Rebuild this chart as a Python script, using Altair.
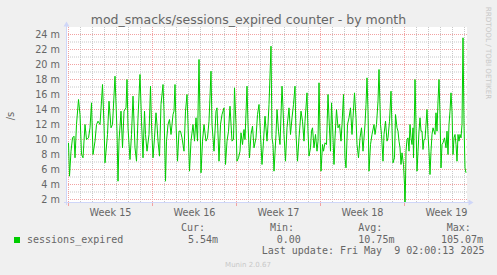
import altair as alt
import pandas as pd

# ---------------- data ----------------
TITLE = "mod_smacks/sessions_expired counter - by month"
Y_UNIT = "/s"
SERIES = "sessions_expired"
WEEKS = ["Week 15", "Week 16", "Week 17", "Week 18", "Week 19"]
WEEK_MID_HOURS = [84, 252, 420, 588, 756]
WEEK_START_HOURS = [0, 168, 336, 504, 672]
DAY_HOURS = [24 * d for d in range(34)]
Y_MAJOR = [2, 4, 6, 8, 10, 12, 14, 16, 18, 20, 22, 24]
Y_MINOR = [3, 5, 7, 9, 11, 13, 15, 17, 19, 21, 23]
STAT_HEADS = ["Cur:", "Min:", "Avg:", "Max:"]
STAT_VALUES = ["5.54m", "0.00", "10.75m", "105.07m"]
LAST_UPDATE = "Last update: Fri May\u00a0 9 02:00:13 2025"
FOOTER = "Munin 2.0.67"
WATERMARK = "RRDTOOL / TOBI OETIKER"

# hours since Monday of week 15, and sessions expired per second (milli)
hours = [
    0, 2, 5, 8, 11, 13, 16, 20, 23, 26, 29, 33, 36, 40, 43, 46, 49, 53, 56, 59,
    63, 66, 68, 71, 73, 78, 81, 85, 88, 93, 97, 99, 101, 105, 108, 111, 115, 117, 119, 123,
    126, 129, 133, 136, 139, 143, 146, 149, 152,
    154, 157, 161, 164, 166, 169, 172, 175, 177, 179, 182, 185, 189, 191, 194, 196, 199, 202, 205, 209,
    211, 213, 215, 218, 221, 224, 227, 231, 234, 237, 239, 242, 245, 249, 252, 255, 258, 261, 263, 265,
    268, 271, 275, 278, 281, 285, 287, 291, 295, 297, 301, 304, 307, 311, 314, 317,
    320, 323, 327, 330, 332, 335, 337, 340, 343, 345, 348, 351, 353, 357, 359, 362, 365, 368, 371, 375,
    378, 381, 384, 387, 390, 393, 397, 399, 401, 405, 407, 409, 411, 415, 417, 420, 423, 427, 429, 431,
    434, 437, 441, 444, 447, 450, 453, 455, 458, 461, 465, 468, 471, 473, 477, 479, 481, 484,
    486, 488, 491, 494, 497, 499, 501, 503, 505, 508, 510, 513, 516, 519, 521, 524, 526, 528, 531, 533,
    536, 539, 542, 545, 547, 550, 553, 555, 558, 561, 564, 567, 569, 572, 575, 577, 580, 583, 586, 589,
    593, 595, 597, 599, 601, 604, 607, 611, 613, 616, 619, 621, 624, 626, 629, 631, 634, 637, 639, 642,
    645, 647, 649,
    652, 654, 657, 659, 661, 663, 665, 667, 670, 672, 673, 675, 677, 679, 681, 683, 685, 687, 689, 690,
    692, 693, 695, 697, 699, 701, 703, 705, 707, 709, 711, 713, 715, 717, 719, 721, 723, 725, 727, 729,
    731, 733, 735, 737, 739, 741, 743, 745, 747, 749, 752, 755, 757, 759, 761, 763, 765, 767, 769, 771,
    773, 775, 777, 779, 781, 783, 785, 787, 789, 791, 793, 795,
]
rate_m = [
    9.56, 5.11, 8.44, 10.22, 10.44, 7.56, 12.0, 15.33, 13.33, 8.0, 7.56, 12.0, 10.0, 10.22, 11.56, 14.89, 8.0, 9.78, 12.0, 12.44,
    12.0, 15.11, 17.33, 12.0, 6.89, 10.67, 15.11, 11.56, 12.0, 18.44, 11.11, 4.44, 9.78, 13.78, 8.89, 13.78, 14.22, 18.0, 11.56, 7.33,
    10.67, 15.78, 8.89, 7.11, 12.89, 18.67, 12.44, 7.56, 13.78,
    10.67, 8.44, 10.67, 17.11, 12.0, 7.56, 10.22, 13.56, 12.0, 9.78, 7.78, 14.67, 17.33, 13.78, 4.44, 9.78, 12.0, 12.67, 10.67, 13.33,
    13.78, 17.33, 12.0, 7.11, 11.11, 11.11, 10.22, 8.44, 13.78, 16.0, 12.0, 5.78, 9.78, 12.0, 9.78, 12.89, 9.78, 20.67, 12.89, 5.56,
    9.78, 12.0, 9.78, 10.22, 12.44, 19.11, 12.0, 8.44, 13.78, 14.22, 7.11, 12.0, 13.33, 14.22, 6.67, 9.78,
    11.11, 14.44, 9.78, 10.0, 16.89, 12.0, 7.11, 7.56, 8.44, 10.89, 9.33, 11.33, 10.0, 17.11, 12.0, 7.56, 10.67, 11.78, 8.89, 10.22,
    13.33, 14.67, 10.67, 6.67, 9.78, 13.11, 9.78, 12.0, 14.67, 22.44, 10.22, 9.33, 5.78, 10.67, 14.0, 11.11, 9.33, 17.11, 14.22, 10.67,
    7.11, 11.56, 14.22, 10.67, 12.89, 14.67, 17.11, 10.67, 7.11, 10.22, 13.78, 12.44, 9.78, 12.44, 16.22, 11.11, 7.78, 8.89,
    11.11, 11.56, 8.89, 10.67, 8.44, 9.78, 17.56, 11.11, 5.78, 9.33, 8.44, 9.56, 9.33, 16.0, 12.89, 8.44, 14.89, 12.0, 6.67, 10.22,
    14.0, 11.56, 12.0, 9.78, 12.0, 16.0, 7.56, 6.22, 12.0, 12.89, 14.22, 10.67, 12.89, 16.22, 12.89, 9.33, 7.56, 10.22, 11.56, 8.44,
    12.0, 14.67, 18.22, 13.78, 5.78, 9.33, 10.67, 12.0, 10.67, 12.0, 15.11, 19.33, 12.0, 10.67, 7.11, 10.67, 12.44, 9.78, 10.22, 12.44,
    16.44, 11.56, 6.89,
    7.56, 13.33, 11.56, 11.11, 9.78, 8.89, 6.67, 8.22, 6.67, 4.0, 0.0, 8.44, 10.0, 10.22, 8.44, 12.0, 10.22, 9.33, 11.56, 7.56,
    13.78, 18.0, 12.0, 5.78, 8.44, 11.11, 12.89, 11.11, 11.11, 8.67, 10.0, 10.0, 12.0, 14.0, 10.67, 8.44, 5.33, 8.44, 10.67, 11.56,
    11.11, 10.67, 13.56, 11.11, 15.11, 18.0, 13.33, 6.22, 9.33, 9.56, 10.22, 8.89, 11.11, 8.0, 12.0, 13.78, 16.22, 13.78, 8.0, 10.22,
    10.67, 9.33, 7.11, 10.67, 9.78, 10.67, 10.22, 12.0, 23.56, 12.0, 6.22, 5.56,
]

# ---------------- styling ----------------
FONT = "DejaVu Sans"
MONO = "DejaVu Sans Mono"
TXT = "#666666"
FAINT = "#c8c8c8"
GRID = "#c8c8c8"
MGRID = "#f2a2a2"
AXIS = "#CFD6F8"
GREEN = "#00cc00"

# domains chosen so grid lines fall on pixel centres (2 h per px, 7.5 px per m)
xscale = alt.Scale(domain=[-3, 797], nice=False, zero=False)
yscale = alt.Scale(domain=[1.6667, 25.0], nice=False, zero=False)

df = pd.DataFrame({"h": hours, "v": rate_m})


def X(field="h"):
    return alt.X(f"{field}:Q", scale=xscale, axis=None)


def Y(field="v"):
    return alt.Y(f"{field}:Q", scale=yscale, axis=None)


def one(text):
    return pd.DataFrame({"t": [text]})


def label(text, x, y, size, color=TXT, font=FONT, align="left", baseline="alphabetic", angle=0):
    return alt.Chart(one(text)).mark_text(
        font=font, fontSize=size, color=color, align=align, baseline=baseline, angle=angle
    ).encode(text="t:N", x=alt.value(x), y=alt.value(y))


layers = []

# grids
layers.append(alt.Chart(pd.DataFrame({"v": Y_MINOR})).mark_rule(color=GRID, strokeDash=[1, 1], strokeWidth=1).encode(y=Y()))
layers.append(alt.Chart(pd.DataFrame({"h": DAY_HOURS})).mark_rule(color=GRID, strokeDash=[1, 1], strokeWidth=1).encode(x=X()))
layers.append(alt.Chart(pd.DataFrame({"v": Y_MAJOR})).mark_rule(color=MGRID, strokeDash=[1, 1], strokeWidth=1).encode(y=Y()))
layers.append(alt.Chart(pd.DataFrame({"h": WEEK_START_HOURS})).mark_rule(color=MGRID, strokeDash=[1, 1], strokeWidth=1).encode(x=X()))
# week ticks below the axis
layers.append(alt.Chart(pd.DataFrame({"h": WEEK_START_HOURS})).mark_rule(color=MGRID, strokeWidth=1).encode(
    x=X(), y=alt.value(175), y2=alt.value(179)))

# data line
layers.append(alt.Chart(df).mark_line(color=GREEN, strokeWidth=1, clip=True, interpolate="linear").encode(x=X(), y=Y()))

# axis lines and arrows
layers.append(alt.Chart(one("a")).mark_rule(color=AXIS, strokeWidth=1).encode(
    x=alt.value(-0.5), y=alt.value(-3), y2=alt.value(178)))
layers.append(alt.Chart(one("a")).mark_rule(color=AXIS, strokeWidth=1).encode(
    y=alt.value(175.5), x=alt.value(-3), x2=alt.value(403)))
layers.append(alt.Chart(one("a")).mark_point(shape="triangle-up", filled=True, size=34, color=AXIS, opacity=1).encode(
    x=alt.value(-0.5), y=alt.value(-3)))
layers.append(alt.Chart(one("a")).mark_point(shape="triangle-right", filled=True, size=34, color=AXIS, opacity=1).encode(
    x=alt.value(404), y=alt.value(175.5)))

# tick labels
layers.append(alt.Chart(pd.DataFrame({"v": Y_MAJOR, "t": [f"{v} m" for v in Y_MAJOR]})).mark_text(
    font=FONT, fontSize=9.7, color=TXT, align="right", baseline="middle").encode(
    y=Y(), x=alt.value(-7), text="t:N"))
layers.append(alt.Chart(pd.DataFrame({"h": WEEK_MID_HOURS, "t": WEEKS})).mark_text(
    font=FONT, fontSize=9.7, color=TXT, align="center", baseline="alphabetic").encode(
    x=X(), y=alt.value(189), text="t:N"))

# titles and texts
layers.append(label(TITLE, 181.5, -3, 12.5, align="center"))
layers.append(label(Y_UNIT, -56, 89, 10, align="center", baseline="middle", angle=270))
layers.append(label(WATERMARK, 421, 26, 7.2, color=FAINT, align="center", baseline="middle", angle=90))
layers.append(label(FOOTER, 181, 240, 7, color=FAINT, align="center"))

# legend
layers.append(alt.Chart(one("a")).mark_square(size=36, color=GREEN, opacity=1).encode(
    x=alt.value(-50), y=alt.value(213)))
layers.append(label(SERIES, -40, 216, 10, font=MONO))
head_x = [114, 203, 291.3, 379.7]
val_x = [121, 209.7, 291.3, 374]
for t, hx in zip(STAT_HEADS, head_x):
    layers.append(label(t, hx, 204, 10, font=MONO))
for t, vx in zip(STAT_VALUES, val_x):
    layers.append(label(t, vx, 216, 10, font=MONO))
layers.append(label(LAST_UPDATE, 194.7, 227, 10, font=MONO))

chart = alt.layer(*layers).properties(
    width=400,
    height=175,
    autosize=alt.AutoSizeParams(type="none"),
    padding={"left": 67, "top": 27, "right": 30, "bottom": 73},
    background="#f0f0f0",
).configure_view(fill="white", strokeWidth=0)

chart.save("out.html", embed_options={"renderer": "svg", "actions": False})
